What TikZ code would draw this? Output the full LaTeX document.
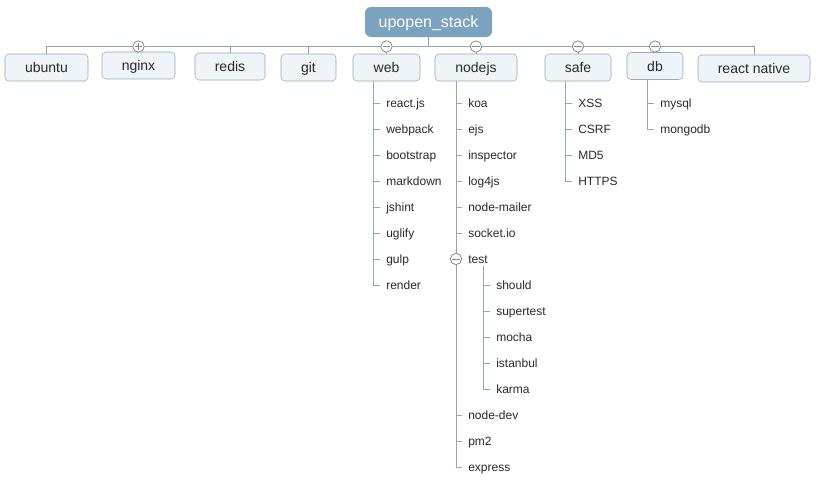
\documentclass[tikz,border=0pt]{standalone}
\usepackage{fontspec}
\setmainfont{Liberation Sans}
\definecolor{rootblue}{HTML}{7BA3C0}
\definecolor{boxfill}{HTML}{EEF4F8}
\definecolor{boxline}{HTML}{93ABBC}
\definecolor{linkcol}{HTML}{8CAABB}
\definecolor{togglecol}{HTML}{8A8A8A}
\definecolor{txt}{HTML}{2A2A2A}

\begin{document}
\begin{tikzpicture}[x=0.75pt,y=-0.75pt,
	root/.style={fill=rootblue, rounded corners=4.5pt, text=white, font=\fontsize{12}{14}\selectfont, minimum width=95.25pt, minimum height=22.5pt, inner sep=0pt, text height=8.6pt, text depth=0pt},
	topic/.style={draw=boxline, fill=boxfill, rounded corners=3pt, text=txt, font=\fontsize{10.5}{12}\selectfont, minimum height=20.25pt, inner sep=0pt, text height=7.5pt, text depth=0pt},
	leaf/.style={anchor=west, text=txt, font=\fontsize{9}{11}\selectfont, inner xsep=4.5pt, inner ysep=0pt, text height=6.4pt, text depth=0pt},
	link/.style={draw=linkcol, line width=0.75pt},
	toggle/.style={circle, draw=togglecol, fill=white, minimum size=8.5pt, inner sep=0pt, line width=0.6pt},
	togglemark/.style={draw=togglecol, line width=0.6pt}]
	\useasboundingbox[fill=white] (0,0) rectangle (819,486);
	% main topics
	\node[root] (stack) at (428.5,22) {upopen\_stack};
	\node[topic, minimum width=62.25pt] (ubuntu) at (46.5,67.5) {ubuntu};
	\node[topic, minimum width=54.75pt] (nginx) at (138.5,65.5) {nginx};
	\node[topic, minimum width=52.5pt] (redis) at (230,66.5) {redis};
	\node[topic, minimum width=41.25pt] (git) at (308.5,67.5) {git};
	\node[topic, minimum width=50.25pt] (web) at (386.5,67.5) {web};
	\node[topic, minimum width=61.5pt] (nodejs) at (476,67.5) {nodejs};
	\node[topic, minimum width=49.5pt] (safe) at (578,67.5) {safe};
	\node[topic, minimum width=42pt] (db) at (655,66) {db};
	\node[topic, minimum width=84pt] (reactnative) at (754,68.5) {react native};
	\coordinate (bar) at (428.5,46.5);
	\draw[link] (stack) -- (bar);
	\draw[link] (ubuntu.north) |- (bar);
	\draw[link] (nginx.north) |- (bar);
	\draw[link] (redis.north) |- (bar);
	\draw[link] (git.north) |- (bar);
	\draw[link] (web.north) |- (bar);
	\draw[link] (nodejs.north) |- (bar);
	\draw[link] (safe.north) |- (bar);
	\draw[link] (db.north) |- (bar);
	\draw[link] (reactnative.north) |- (bar);
	% web
	\coordinate (webtrunk) at (373,81);
	\node[leaf] (reactjs) at (380,103) {react.js};
	\node[leaf] (webpack) at (380,129) {webpack};
	\node[leaf] (bootstrap) at (380,155) {bootstrap};
	\node[leaf] (markdown) at (380,181) {markdown};
	\node[leaf] (jshint) at (380,207) {jshint};
	\node[leaf] (uglify) at (380,233) {uglify};
	\node[leaf] (gulp) at (380,259) {gulp};
	\node[leaf] (render) at (380,285) {render};
	\draw[link] (webtrunk) |- (reactjs.west);
	\draw[link] (webtrunk) |- (webpack.west);
	\draw[link] (webtrunk) |- (bootstrap.west);
	\draw[link] (webtrunk) |- (markdown.west);
	\draw[link] (webtrunk) |- (jshint.west);
	\draw[link] (webtrunk) |- (uglify.west);
	\draw[link] (webtrunk) |- (gulp.west);
	\draw[link] (webtrunk) |- (render.west);
	% nodejs
	\coordinate (nodetrunk) at (456,81);
	\node[leaf] (koa) at (462,103) {koa};
	\node[leaf] (ejs) at (462,129) {ejs};
	\node[leaf] (inspector) at (462,155) {inspector};
	\node[leaf] (logfourjs) at (462,181) {log4js};
	\node[leaf] (nodemailer) at (462,207) {node-mailer};
	\node[leaf] (socketio) at (462,233) {socket.io};
	\node[leaf] (test) at (462,259) {test};
	\node[leaf] (nodedev) at (462,415) {node-dev};
	\node[leaf] (pmtwo) at (462,441) {pm2};
	\node[leaf] (express) at (462,467) {express};
	\draw[link] (nodetrunk) |- (koa.west);
	\draw[link] (nodetrunk) |- (ejs.west);
	\draw[link] (nodetrunk) |- (inspector.west);
	\draw[link] (nodetrunk) |- (logfourjs.west);
	\draw[link] (nodetrunk) |- (nodemailer.west);
	\draw[link] (nodetrunk) |- (socketio.west);
	\draw[link] (nodetrunk) |- (test.west);
	\draw[link] (nodetrunk) |- (nodedev.west);
	\draw[link] (nodetrunk) |- (pmtwo.west);
	\draw[link] (nodetrunk) |- (express.west);
	% test
	\coordinate (testtrunk) at (483,266);
	\node[leaf] (should) at (490,285) {should};
	\node[leaf] (supertest) at (490,311) {supertest};
	\node[leaf] (mocha) at (490,337) {mocha};
	\node[leaf] (istanbul) at (490,363) {istanbul};
	\node[leaf] (karma) at (490,389) {karma};
	\draw[link] (testtrunk) |- (should.west);
	\draw[link] (testtrunk) |- (supertest.west);
	\draw[link] (testtrunk) |- (mocha.west);
	\draw[link] (testtrunk) |- (istanbul.west);
	\draw[link] (testtrunk) |- (karma.west);
	% safe
	\coordinate (safetrunk) at (565,81);
	\node[leaf] (xss) at (572,103) {XSS};
	\node[leaf] (csrf) at (572,129) {CSRF};
	\node[leaf] (mdfive) at (572,155) {MD5};
	\node[leaf] (https) at (572,181) {HTTPS};
	\draw[link] (safetrunk) |- (xss.west);
	\draw[link] (safetrunk) |- (csrf.west);
	\draw[link] (safetrunk) |- (mdfive.west);
	\draw[link] (safetrunk) |- (https.west);
	% db
	\coordinate (dbtrunk) at (647,79);
	\node[leaf] (mysql) at (654,103) {mysql};
	\node[leaf] (mongodb) at (654,129) {mongodb};
	\draw[link] (dbtrunk) |- (mysql.west);
	\draw[link] (dbtrunk) |- (mongodb.west);
	% toggles
	\node[toggle] (tnginx) at (nginx.north |- bar) {};
	\draw[togglemark] ([xshift=1.6pt]tnginx.west) -- ([xshift=-1.6pt]tnginx.east);
	\draw[togglemark] ([yshift=-1.6pt]tnginx.north) -- ([yshift=1.6pt]tnginx.south);
	\node[toggle] (tweb) at (web.north |- bar) {};
	\draw[togglemark] ([xshift=1.6pt]tweb.west) -- ([xshift=-1.6pt]tweb.east);
	\node[toggle] (tnodejs) at (nodejs.north |- bar) {};
	\draw[togglemark] ([xshift=1.6pt]tnodejs.west) -- ([xshift=-1.6pt]tnodejs.east);
	\node[toggle] (tsafe) at (safe.north |- bar) {};
	\draw[togglemark] ([xshift=1.6pt]tsafe.west) -- ([xshift=-1.6pt]tsafe.east);
	\node[toggle] (tdb) at (db.north |- bar) {};
	\draw[togglemark] ([xshift=1.6pt]tdb.west) -- ([xshift=-1.6pt]tdb.east);
	\node[toggle] (ttest) at (nodetrunk |- test.west) {};
	\draw[togglemark] ([xshift=1.6pt]ttest.west) -- ([xshift=-1.6pt]ttest.east);
\end{tikzpicture}
\end{document}
